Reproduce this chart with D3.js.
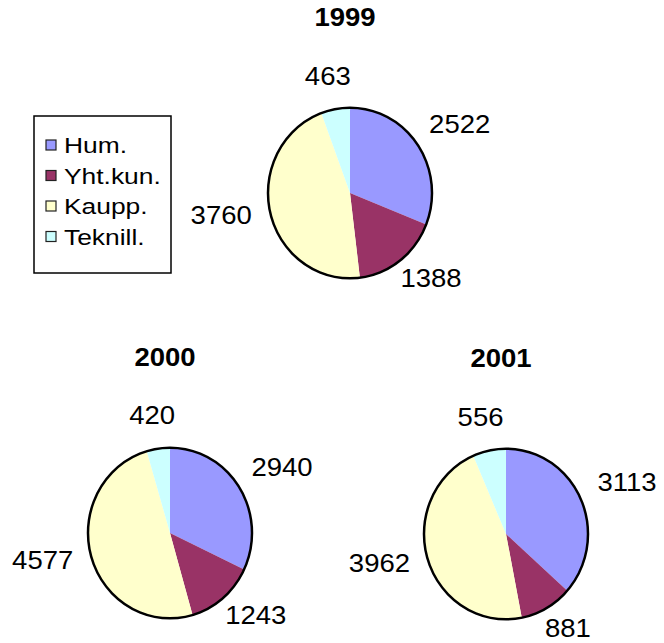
<!DOCTYPE html>
<html>
<head>
<meta charset="utf-8">
<script src="https://cdn.jsdelivr.net/npm/d3@7"></script>
<style>
  body { margin: 0; background: #fff; }
  text { font-family: Arial, "Liberation Sans", sans-serif; fill: #000; }
</style>
</head>
<body>
<div id="chart"></div>
<script>
// data
const categories = ["Hum.", "Yht.kun.", "Kaupp.", "Teknill."];
const years = ["1999", "2000", "2001"];
const values1999 = [2522, 1388, 3760, 463];
const values2000 = [2940, 1243, 4577, 420];
const values2001 = [3113, 881, 3962, 556];
const colors = ["#9999ff", "#993366", "#ffffcc", "#ccffff"];

const width = 664, height = 643;
const radius = 82, squash = 1.04;
const labelSize = 25, stretch = 1.1;

const svg = d3.select("#chart").append("svg")
  .attr("width", width)
  .attr("height", height);

const pies = [
  { year: years[0], values: values1999, cx: 350, cy: 193 },
  { year: years[1], values: values2000, cx: 170, cy: 533 },
  { year: years[2], values: values2001, cx: 506, cy: 534 }
];

const pie = d3.pie().sort(null).value(d => d);
const arc = d3.arc().innerRadius(0).outerRadius(radius);

pies.forEach(p => {
  // title
  svg.append("text")
    .attr("transform", `translate(${p.cx - 5},${p.cy - 167}) scale(${stretch},1)`)
    .attr("text-anchor", "middle")
    .attr("font-size", 25)
    .attr("font-weight", "bold")
    .text(p.year);

  let g = svg.append("g")
    .attr("transform", `translate(${p.cx},${p.cy})`);

  let body = g.append("g").attr("transform", `scale(1,${squash})`);

  body.selectAll("path.slice")
    .data(pie(p.values))
    .enter().append("path")
    .attr("class", "slice")
    .attr("d", arc)
    .attr("fill", (d, i) => colors[i]);

  body.append("circle")
    .attr("r", radius)
    .attr("fill", "none")
    .attr("stroke", "#000")
    .attr("stroke-width", 2.5)
    .attr("vector-effect", "non-scaling-stroke");

  // value labels, outside end
  const gap = 20;
  g.selectAll("text.val")
    .data(pie(p.values))
    .enter().append("text")
    .attr("class", "val")
    .attr("font-size", labelSize)
    .attr("text-anchor", "middle")
    .attr("dy", "0.36em")
    .attr("transform", d => {
      let a = (d.startAngle + d.endAngle) / 2;
      let s = Math.sin(a), c = Math.cos(a);
      let w = String(d.data).length * 0.556 * labelSize * stretch;
      let x = (radius + gap) * s + s * w / 2;
      let y = -(radius * squash + gap) * c - c * 9 - 5;
      return `translate(${x},${y}) scale(${stretch},1)`;
    })
    .text(d => d.data);
});

// legend
const legend = svg.append("g").attr("transform", "translate(34,116)");
legend.append("rect")
  .attr("width", 137)
  .attr("height", 157)
  .attr("fill", "#fff")
  .attr("stroke", "#000")
  .attr("stroke-width", 1.5);

const item = legend.selectAll("g.item")
  .data(categories)
  .enter().append("g")
  .attr("class", "item")
  .attr("transform", (d, i) => `translate(12,${30 + i * 30.5})`);

item.append("rect")
  .attr("x", 0)
  .attr("y", -6)
  .attr("width", 10)
  .attr("height", 10)
  .attr("fill", (d, i) => colors[i])
  .attr("stroke", "#222")
  .attr("stroke-width", 1.2);

item.append("text")
  .attr("transform", "translate(18,0) scale(1.2,1)")
  .attr("dy", "0.32em")
  .attr("font-size", 22)
  .text(d => d);
</script>
</body>
</html>
